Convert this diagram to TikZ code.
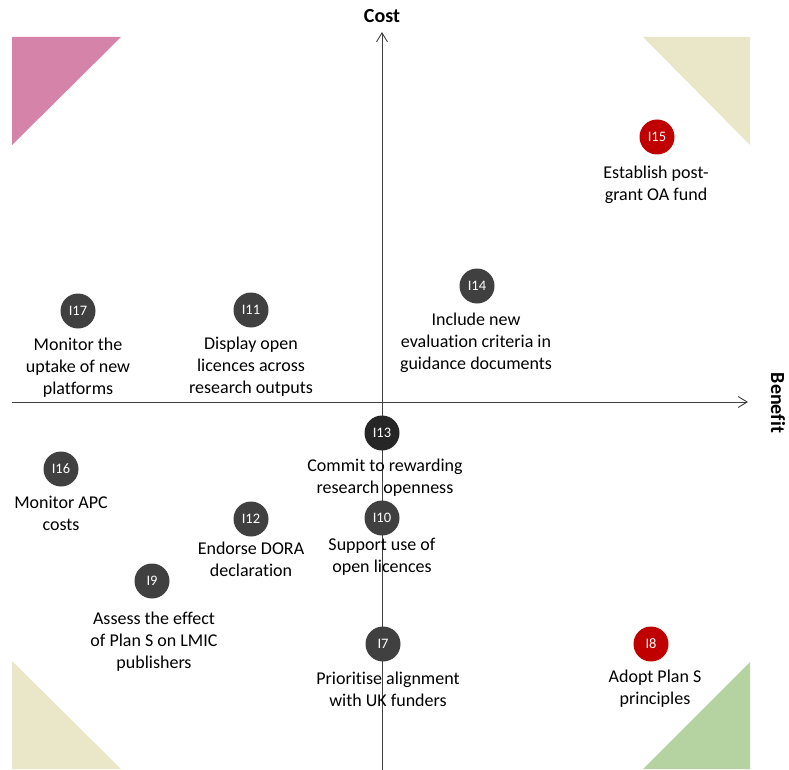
\documentclass[tikz,border=0pt]{standalone}
\usepackage{fontspec}
\setmainfont{Carlito}[Ligatures=NoCommon]
\usetikzlibrary{arrows.meta}
\definecolor{pinkq}{RGB}{213,131,168}
\definecolor{beigeq}{RGB}{233,231,200}
\definecolor{greenq}{RGB}{181,211,161}
\definecolor{darki}{RGB}{64,64,64}
\definecolor{blacki}{RGB}{38,38,38}
\definecolor{redi}{RGB}{192,0,0}
\definecolor{axisc}{RGB}{64,64,64}

\begin{document}
\begin{tikzpicture}[x=1pt, y=-1pt,
    idea/.style={circle, fill=#1, text=white, minimum size=35pt, inner sep=0pt, font=\fontsize{14.5}{16}\selectfont},
    desc/.style={align=center, inner sep=0pt, font=\fontsize{18}{22}\selectfont},
    axislabel/.style={inner sep=0pt, font=\fontsize{20}{24}\selectfont\bfseries}]
        \useasboundingbox (0,0) rectangle (789,770);

        % Quadrant corners
        \fill[pinkq] (12,37) -- (121,37) -- (12,145) -- cycle;
        \fill[beigeq] (643,37) -- (750,37) -- (750,145) -- cycle;
        \fill[beigeq] (12,661) -- (12,769) -- (121,769) -- cycle;
        \fill[greenq] (750,662) -- (750,769) -- (643,769) -- cycle;

        % Axes
        \coordinate (ybot) at (382,770);
        \coordinate (ytop) at (382,32);
        \coordinate (xleft) at (12,402);
        \coordinate (xright) at (748,402);
        \draw[axisc, line width=0.9pt, -{Straight Barb[length=9pt, width=11pt]}] (ybot) -- (ytop);
        \draw[axisc, line width=0.9pt, -{Straight Barb[length=9pt, width=11pt]}] (xleft) -- (xright);
        \node[axislabel] (cost) at (382,16) {Cost};
        \node[axislabel, rotate=-90] (benefit) at (778,403) {Benefit};

        % Interventions
        \foreach \n/\x/\y/\c in {15/657/137/redi, 17/78/311/darki, 11/251/310/darki,
                                 14/477/286/darki, 13/382/433/blacki, 16/61/469/darki,
                                 12/251/519/darki, 10/382/518/darki, 9/152/581/darki,
                                 7/383/644/darki, 8/651/644/redi} {
          \node[idea=\c] (i\n) at (\x,\y) {I\n};
        }

        % Descriptions
        \foreach \n/\x/\y/\t in {15/656/185/{Establish post-\\grant OA fund},
                                 17/78/368/{Monitor the\\uptake of new\\platforms},
                                 11/251/367/{Display open\\licences across\\research outputs},
                                 14/476/343/{Include new\\evaluation criteria in\\guidance documents},
                                 13/385/478/{Commit to rewarding\\research openness},
                                 16/61/513/{Monitor APC\\costs},
                                 12/251/559/{Endorse DORA\\declaration},
                                 10/382/557/{Support use of\\open licences},
                                 9/154/642/{Assess the effect\\of Plan S on LMIC\\publishers},
                                 7/388/689/{Prioritise alignment\\with UK funders},
                                 8/655/689/{Adopt Plan S\\principles}} {
          \node[desc] (t\n) at (\x,\y) {\t};
        }
      \end{tikzpicture}
\end{document}
